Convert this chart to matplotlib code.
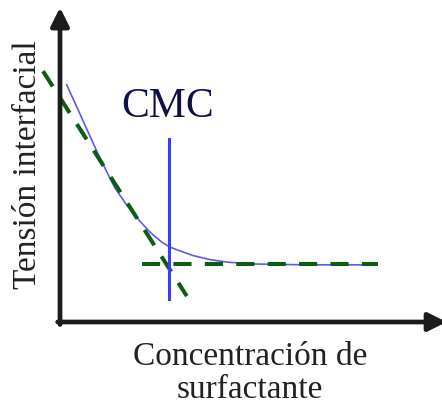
import matplotlib.pyplot as plt

# surface tension curve (arbitrary units)
conc = [0.175, 0.437, 0.699, 0.961, 1.178, 1.440, 1.746, 2.050, 2.356, 2.662,
        2.880, 3.141, 3.482, 3.927, 4.372, 5.052, 6.283, 8.298]
tension = [7.60, 6.90, 6.19, 5.48, 4.93, 4.29, 3.75, 3.29, 2.88, 2.56,
           2.40, 2.28, 2.13, 2.00, 1.92, 1.86, 1.835, 1.83]

# tangent lines used to find the CMC
slope_x = [-0.445, 3.32]
slope_y = [8.04, 0.83]
plateau_x = [2.15, 8.32]
plateau_y = [1.86, 1.86]

cmc_x = 2.85
cmc_y = [0.74, 5.87]

plt.rcParams['font.family'] = ['Liberation Serif', 'DejaVu Serif']

fig = plt.figure(figsize=(4.42, 4.04), dpi=100)
ax = fig.add_axes([60/442, (404-322)/404, 382/442, 312/404])
ax.set_xlim(0, 10)
ax.set_ylim(0, 10)
ax.axis('off')

green = '#0e5c12'
ax.plot(conc, tension, color='#5a5aee', lw=1.2, clip_on=False, zorder=2)
ax.plot(slope_x, slope_y, color=green, lw=2.9, dashes=(4.5, 3.3), clip_on=False, zorder=3)
ax.plot(plateau_x, plateau_y, color=green, lw=2.9, dashes=(4.5, 3.3), clip_on=False, zorder=3)
ax.plot([cmc_x, cmc_x], cmc_y, color='#3b3bff', lw=2.2, clip_on=False, zorder=4)

arrow = dict(arrowstyle='-|>,head_length=1.1,head_width=0.55', lw=3.4,
             color='#1c1c1c', shrinkA=0, shrinkB=0)
ax.annotate('', xy=(0, 1.008), xytext=(0, -0.008), xycoords='axes fraction',
            textcoords='axes fraction', arrowprops=arrow, annotation_clip=False)
ax.annotate('', xy=(1.012, 0), xytext=(-0.006, 0), xycoords='axes fraction',
            textcoords='axes fraction', arrowprops=arrow, annotation_clip=False)

fig.text(168/442, 1 - 117/404, 'CMC', ha='center', va='baseline',
         fontsize=30, color='#10104a')
fig.text(28/442, 1 - 165/404, 'Tensión interfacial', rotation=90,
         ha='center', va='center', fontsize=24, color='#222222')
fig.text(250/442, 1 - 365/404, 'Concentración de', ha='center', va='baseline',
         fontsize=24, color='#222222')
fig.text(250/442, 1 - 398/404, 'surfactante', ha='center', va='baseline',
         fontsize=24, color='#222222')

fig.savefig('out.png', dpi=100)
